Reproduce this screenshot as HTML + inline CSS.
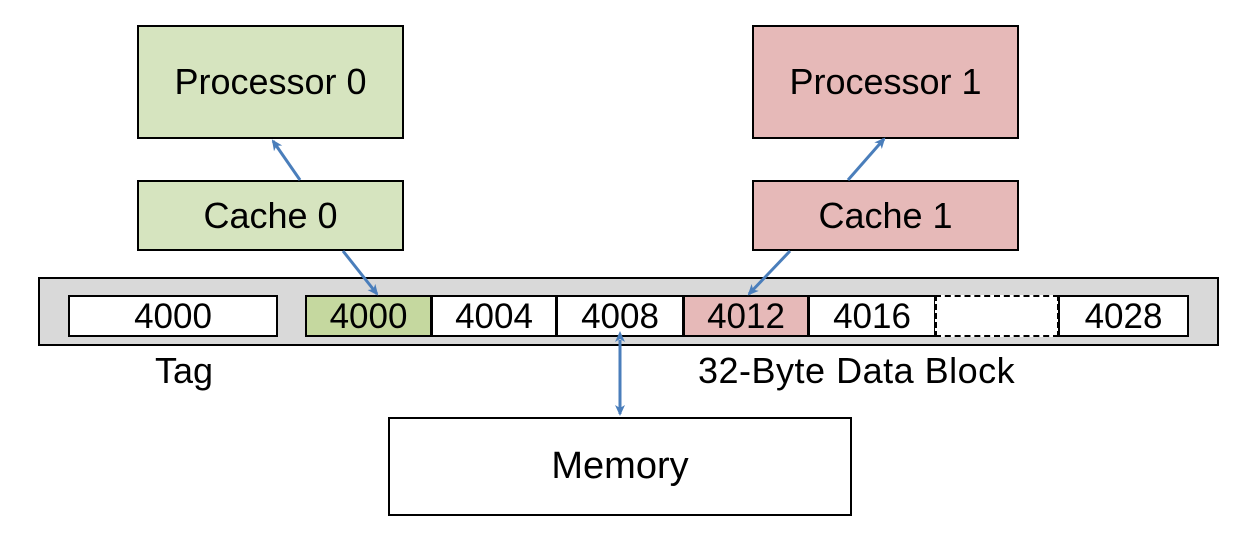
<!DOCTYPE html>
<html><head><meta charset="utf-8"><style>
body{margin:0;width:1250px;height:534px;background:#fff;position:relative;overflow:hidden;font-family:"Liberation Sans",sans-serif;}
.b{position:absolute;box-sizing:border-box;border:2px solid #000;display:flex;align-items:center;justify-content:center;font-size:36px;color:#000;}
.g{background:#d6e4bf}.r{background:#e6b9b8}
.c{position:absolute;box-sizing:border-box;border:2px solid #000;top:295px;height:42px;display:flex;align-items:center;justify-content:center;font-size:35px;background:#fff;padding-top:2px;}
.t{position:absolute;font-size:36px;}
</style></head><body>
<div class="b g" style="left:137px;top:25px;width:267px;height:114px;">Processor 0</div>
<div class="b g" style="left:137px;top:180px;width:267px;height:71px;">Cache 0</div>
<div class="b r" style="left:752px;top:25px;width:267px;height:114px;">Processor 1</div>
<div class="b r" style="left:752px;top:180px;width:267px;height:71px;">Cache 1</div>
<div class="b" style="left:38px;top:277px;width:1181px;height:69px;background:#d9d9d9;"></div>
<div class="c" style="left:68px;width:210px;">4000</div>
<div class="c" style="left:305px;width:127px;background:#c5d89f;">4000</div>
<div class="c" style="left:431px;width:126px;">4004</div>
<div class="c" style="left:556px;width:128px;">4008</div>
<div class="c" style="left:683px;width:126px;background:#e6b9b8;">4012</div>
<div class="c" style="left:808px;width:128px;">4016</div>
<div class="c" style="left:935px;width:124px;border:2px dashed #000;"></div>
<div class="c" style="left:1058px;width:131px;">4028</div>
<div class="t" style="left:155px;top:350px;">Tag</div>
<div class="t" style="left:698px;top:350px;letter-spacing:0.5px;">32-Byte Data Block</div>
<div class="b" style="left:388px;top:417px;width:464px;height:99px;font-size:38px;">Memory</div>
<svg width="1250" height="534" style="position:absolute;left:0;top:0">
<defs><marker id="a" markerWidth="12" markerHeight="12" refX="9" refY="6" orient="auto" markerUnits="userSpaceOnUse"><path d="M0,1 L11,6 L0,11 L3,6 Z" fill="#4a7ebb"/></marker>
<marker id="s" markerWidth="12" markerHeight="12" refX="2" refY="6" orient="auto-start-reverse" markerUnits="userSpaceOnUse"><path d="M0,1 L11,6 L0,11 L3,6 Z" fill="#4a7ebb"/></marker></defs>
<g stroke="#4a7ebb" stroke-width="3" fill="none">
<line x1="300" y1="180" x2="273" y2="141" marker-end="url(#a)"/>
<line x1="343" y1="251" x2="377" y2="294" marker-end="url(#a)"/>
<line x1="848" y1="180" x2="884" y2="139" marker-end="url(#a)"/>
<line x1="790" y1="251" x2="749" y2="294" marker-end="url(#a)"/>
<line x1="620" y1="340" x2="620" y2="414" marker-start="url(#s)" marker-end="url(#a)"/>
</g></svg>
</body></html>
